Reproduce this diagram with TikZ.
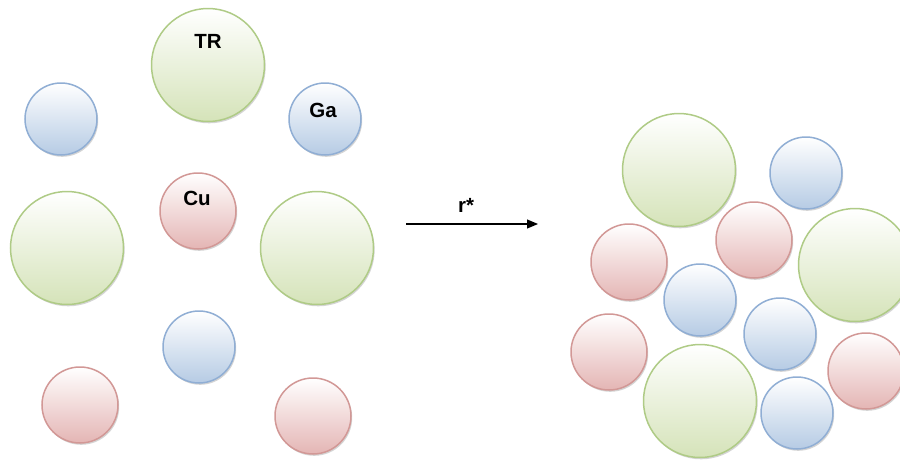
\documentclass[tikz,border=0pt]{standalone}
\usepackage{fontspec}
\setmainfont{Liberation Sans}
\usetikzlibrary{arrows.meta,shadows}
\definecolor{grnfill}{HTML}{D5E3B9}
\definecolor{grnline}{HTML}{AFCB86}
\definecolor{redfill}{HTML}{E4B5B4}
\definecolor{redline}{HTML}{D29896}
\definecolor{blufill}{HTML}{B6CBE4}
\definecolor{bluline}{HTML}{90AED4}
\tikzset{
  x=1pt, y=-1pt,
  ball/.style={circle, inner sep=0pt, line width=1.5pt,
    drop shadow={shadow xshift=1.2pt, shadow yshift=-1.8pt, opacity=0.28, fill=black!60}},
  bigball/.style={ball, minimum size=113pt, draw=grnline, top color=white, bottom color=grnfill},
  redball/.style={ball, minimum size=76pt, draw=redline, top color=white, bottom color=redfill},
  bluball/.style={ball, minimum size=72pt, draw=bluline, top color=white, bottom color=blufill},
  tag/.style={font=\bfseries\fontsize{20.5}{20.5}\selectfont},
  flow/.style={line width=1.1pt, -{Triangle[length=11pt,width=9pt]}}
}
\begin{document}
\begin{tikzpicture}
\useasboundingbox (0,0) rectangle (900,461);
% separated atoms
\node[bigball] (tr)  at (208,65) {};
\node[bluball] (b1)  at (61,119) {};
\node[bluball] (ga)  at (325,119) {};
\node[bigball] (g1)  at (67,248) {};
\node[redball] (cu)  at (198,211) {};
\node[bigball] (g2)  at (317,248) {};
\node[bluball] (b2)  at (199,347) {};
\node[redball] (r1)  at (80,405) {};
\node[redball] (r2)  at (313,416) {};
\node[tag] (trlab) at (208,41) {TR};
\node[tag] (galab) at (323,110) {Ga};
\node[tag] (culab) at (197,198) {Cu};
% transition arrow
\coordinate (from) at (406,224);
\coordinate (to)   at (538,224);
\draw[flow] (from) -- (to);
\node[tag] (rlab) at (466,205) {r*};
% packed cluster
\node[bigball] (pg1) at (679,170) {};
\node[bluball] (pb1) at (806,173) {};
\node[redball] (pr1) at (754,240) {};
\node[bigball] (pg2) at (855,265) {};
\node[redball] (pr2) at (629,262) {};
\node[bluball] (pb2) at (700,300) {};
\node[bluball] (pb3) at (780,334) {};
\node[redball] (pr3) at (609,352) {};
\node[bigball] (pg3) at (700,401) {};
\node[redball] (pr4) at (866,371) {};
\node[bluball] (pb4) at (797,413) {};
\end{tikzpicture}
\end{document}
